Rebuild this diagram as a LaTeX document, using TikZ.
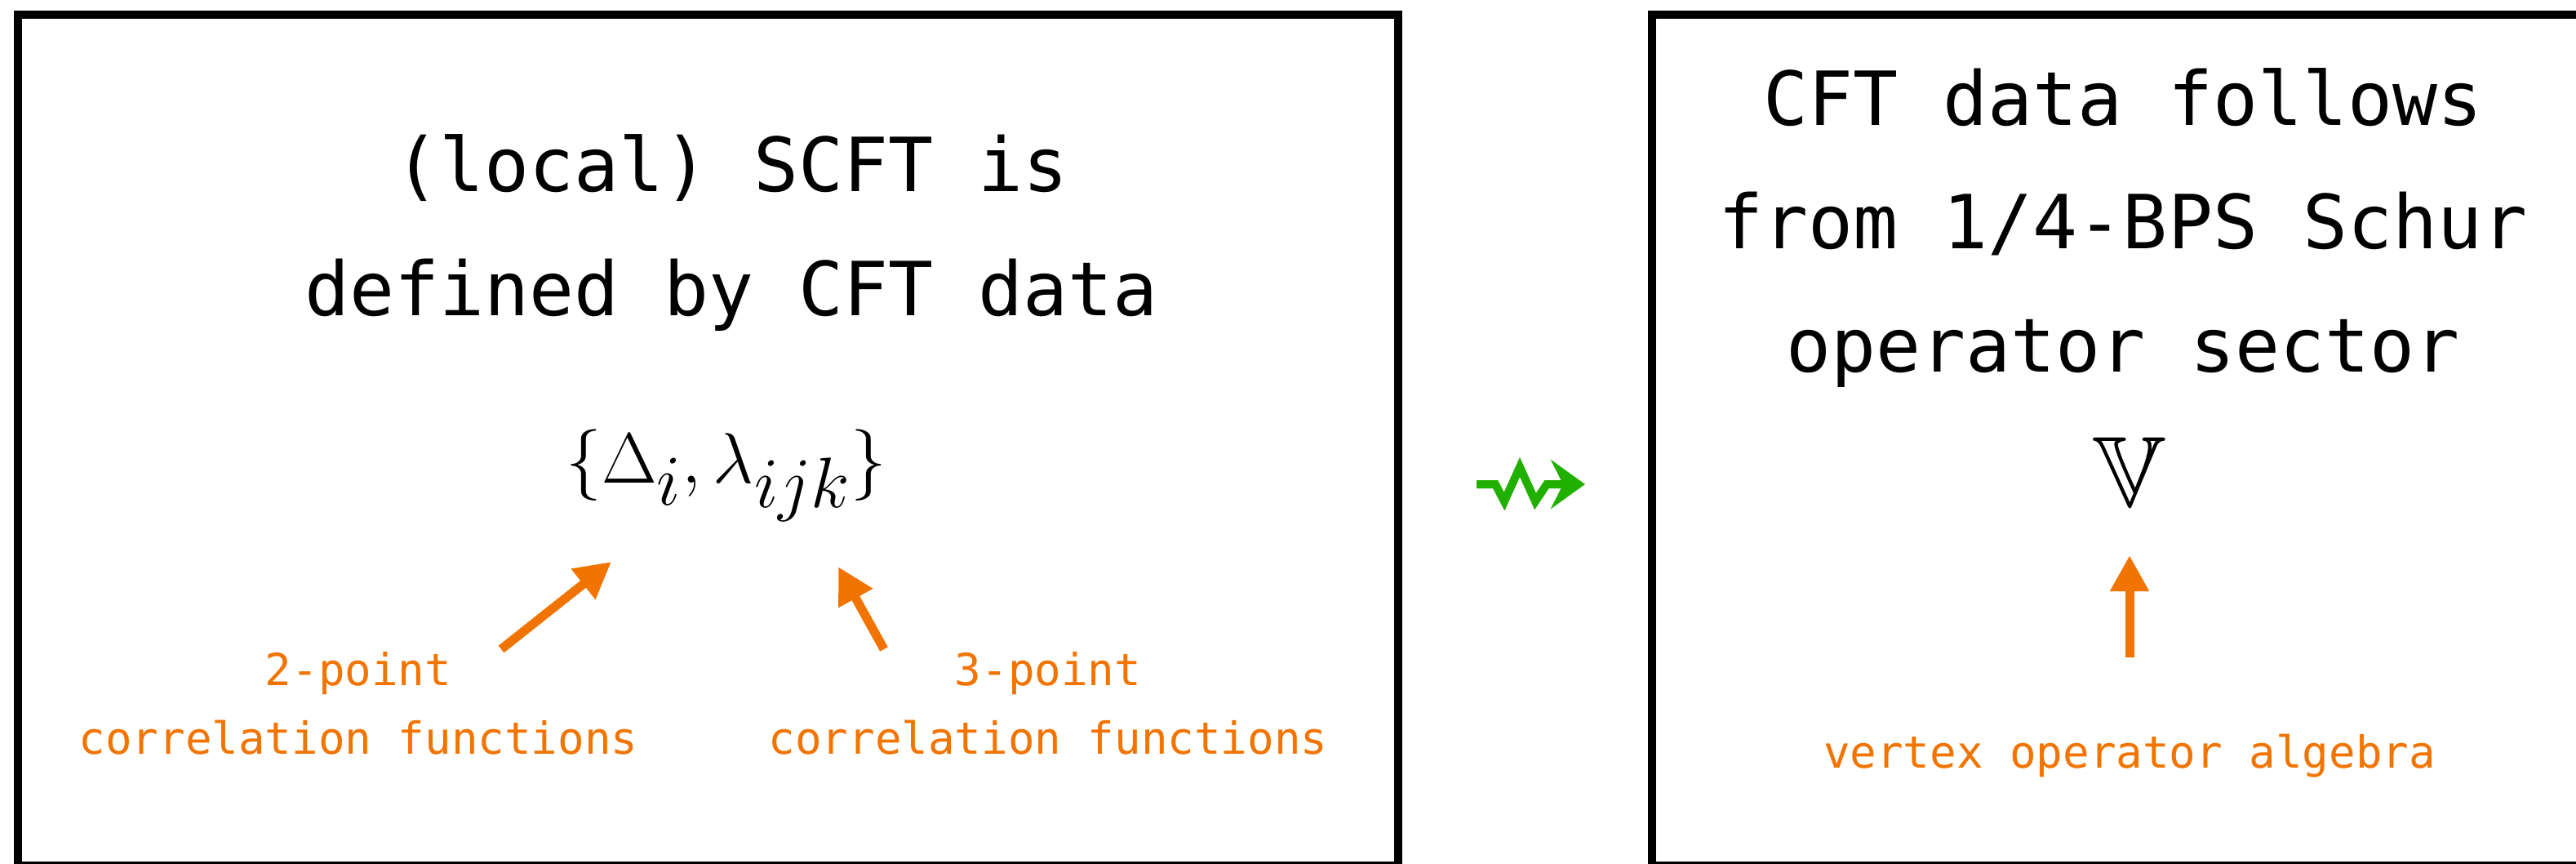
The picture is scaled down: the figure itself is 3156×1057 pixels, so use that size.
\documentclass[tikz,border=0pt]{standalone}
\usepackage{fontspec}
\usepackage{amssymb}
\setmonofont{DejaVu Sans Mono}
\usetikzlibrary{arrows.meta}

\definecolor{vermilion}{RGB}{242,116,0}
\definecolor{leafgreen}{RGB}{34,176,0}

\begin{document}
\begin{tikzpicture}[x=0.01cm,y=-0.01cm,
    panel/.style={draw,line width=0.1cm,inner sep=0pt},
    headline/.style={font=\ttfamily\fontsize{26}{43}\selectfont,align=center},
    note/.style={text=vermilion,font=\ttfamily\fontsize{15.4}{24}\selectfont,align=center},
    pointer/.style={draw=vermilion,line width=0.11cm,-{Triangle[length=0.44cm,width=0.45cm]}},
    squiggle/.style={draw=leafgreen,line width=0.1cm,-{Stealth[length=0.42cm,width=0.6cm,inset=0.15cm]}}]

  \useasboundingbox (0,0) rectangle (3156,1057);

  % the two panels
  \node[panel,minimum width=16.9cm,minimum height=10.42cm] (scftpanel) at (867,539) {};
  \node[panel,minimum width=11.46cm,minimum height=10.42cm] (schurpanel) at (2597,539) {};

  % left panel
  \node[headline] (scfthead) at (896,285) {(local) SCFT is\\defined by CFT data};
  \node[font=\fontsize{40}{44}\selectfont] (cftdata) at (890,582) {$\{\Delta_i,\lambda_{ijk}\}$};

  \node[note] (twopoint) at (439,861) {2-point\\correlation functions};
  \node[note] (threepoint) at (1284,861) {3-point\\correlation functions};

  \coordinate (twofrom) at (614,795);
  \coordinate (twoto) at (749,688);
  \coordinate (threefrom) at (1083,795);
  \coordinate (threeto) at (1027,694);
  \draw[pointer] (twofrom) -- (twoto);
  \draw[pointer] (threefrom) -- (threeto);

  % squiggly arrow between the panels
  \coordinate (sqstart) at (1809,593);
  \coordinate (sqend) at (1942,593);
  \draw[squiggle] (sqstart) -- ++(23,0) -- ++(11,21) -- ++(19,-42) -- ++(19,42) -- ++(14,-21) -- (sqend);

  % right panel
  \node[headline] (schurhead) at (2601,279) {CFT data follows\\from 1/4-BPS Schur\\operator sector};
  \node[font=\fontsize{35}{40}\selectfont] (vsector) at (2609,578) {$\mathbb{V}$};
  \node[note] (voa) at (2609,926) {vertex operator algebra};

  \coordinate (voafrom) at (2609,805);
  \coordinate (voato) at (2609,680);
  \draw[pointer] (voafrom) -- (voato);

\end{tikzpicture}
\end{document}
